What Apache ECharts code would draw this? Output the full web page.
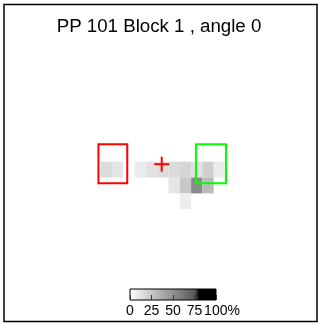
<!DOCTYPE html>
<html>
<head>
<meta charset="utf-8">
<script src="https://cdn.jsdelivr.net/npm/echarts@6/dist/echarts.min.js"></script>
<style>
  html, body { margin: 0; padding: 0; background: #fff; }
  #chart { width: 318px; height: 325px; }
</style>
</head>
<body>
<div id="chart"></div>
<script>
const titleText = 'PP 101 Block 1 , angle 0';

// [column, row, percent]
const cells = [
  [8, 7, 16], [9, 7, 12], [11, 7, 9], [12, 7, 13], [13, 7, 16], [14, 7, 17],
  [15, 7, 19], [16, 7, 14], [17, 7, 22], [18, 7, 9],
  [14, 8, 12], [15, 8, 25], [16, 8, 52], [17, 8, 31],
  [15, 9, 8]
];

// [x1, y1, x2, y2] in cell units
const redBox = [7.8, 5.9, 10.35, 8.36];
const greenBox = [16.43, 5.9, 19.09, 8.36];
const crossPos = [13.4, 7.16];

const colorbarTicks = [0, 25, 50, 75, 100];

// grey scale: white -> dark grey up to ~79%, black above
const greyStops = [];
for (let p = 0; p <= 100; p += 5) {
  if (p < 80) {
    const g = Math.round(255 - 221.5 * p / 100);
    greyStops.push('rgb(' + g + ',' + g + ',' + g + ')');
  } else {
    greyStops.push('#000000');
  }
}

const chart = echarts.init(document.getElementById('chart'));

const boxSeries = (box, color) => ({
  type: 'custom',
  xAxisIndex: 0,
  yAxisIndex: 0,
  data: [box],
  z: 5,
  renderItem: (params, api) => {
    const p1 = api.coord([api.value(0), api.value(1)]);
    const p2 = api.coord([api.value(2), api.value(3)]);
    return {
      type: 'rect',
      shape: { x: p1[0], y: p1[1], width: p2[0] - p1[0], height: p2[1] - p1[1] },
      style: { fill: 'none', stroke: color, lineWidth: 2 }
    };
  }
});

chart.setOption({
  animation: false,
  title: {
    text: titleText,
    left: 'center',
    top: 17,
    padding: 0,
    textStyle: { fontFamily: 'Liberation Sans, Arial', fontSize: 18.7, fontWeight: 'normal', color: '#000' }
  },
  graphic: [{
    type: 'rect',
    shape: { x: 4, y: 4.5, width: 313, height: 317 },
    style: { fill: 'none', stroke: '#000', lineWidth: 1.5 },
    z: 10
  }],
  visualMap: {
    show: false,
    seriesIndex: 0,
    dimension: 2,
    min: 0,
    max: 100,
    inRange: { color: greyStops }
  },
  grid: [
    { left: 10.3, width: 305.1, top: 50.6, height: 238 },
    { left: 130, width: 86, top: 289, height: 11 }
  ],
  xAxis: [
    { gridIndex: 0, type: 'value', min: 0, max: 27, show: false },
    {
      gridIndex: 1, type: 'value', min: 0, max: 100, interval: 25, z: 5,
      axisLine: { show: false },
      splitLine: { show: false },
      axisTick: { inside: true, length: 5, lineStyle: { color: '#333', width: 1 } },
      axisLabel: {
        margin: 4,
        color: '#000',
        fontFamily: 'Liberation Sans, Arial',
        fontSize: 14,
        formatter: v => v === 100 ? '{p|100%}' : String(v),
        rich: { p: { padding: [0, 0, 0, 12], fontSize: 14, fontFamily: 'Liberation Sans, Arial', color: '#000' } }
      }
    }
  ],
  yAxis: [
    { gridIndex: 0, type: 'value', min: 0, max: 15, inverse: true, show: false },
    { gridIndex: 1, type: 'value', min: 0, max: 1, show: false }
  ],
  series: [
    {
      type: 'custom',
      xAxisIndex: 0,
      yAxisIndex: 0,
      data: cells,
      renderItem: (params, api) => {
        const p1 = api.coord([api.value(0), api.value(1)]);
        const p2 = api.coord([api.value(0) + 1, api.value(1) + 1]);
        return {
          type: 'rect',
          shape: { x: p1[0], y: p1[1], width: p2[0] - p1[0], height: p2[1] - p1[1] },
          style: { fill: api.visual('color') }
        };
      }
    },
    boxSeries(redBox, '#ff0000'),
    boxSeries(greenBox, '#00ff00'),
    {
      type: 'custom',
      xAxisIndex: 0,
      yAxisIndex: 0,
      data: [crossPos],
      z: 6,
      renderItem: (params, api) => {
        const c = api.coord([api.value(0), api.value(1)]);
        const s = 7.5;
        const st = { stroke: '#ff0000', lineWidth: 2 };
        return {
          type: 'group',
          children: [
            { type: 'line', shape: { x1: c[0] - s, y1: c[1], x2: c[0] + s, y2: c[1] }, style: st },
            { type: 'line', shape: { x1: c[0], y1: c[1] - s, x2: c[0], y2: c[1] + s }, style: st }
          ]
        };
      }
    },
    {
      type: 'custom',
      xAxisIndex: 1,
      yAxisIndex: 1,
      data: [[colorbarTicks[0], colorbarTicks[colorbarTicks.length - 1]]],
      z: 2,
      renderItem: (params, api) => {
        const p1 = api.coord([api.value(0), 1]);
        const p2 = api.coord([api.value(1), 0]);
        const stops = greyStops.map((c, i) => ({ offset: i / (greyStops.length - 1), color: c }));
        return {
          type: 'rect',
          shape: { x: p1[0], y: p1[1], width: p2[0] - p1[0], height: p2[1] - p1[1] },
          style: {
            fill: new echarts.graphic.LinearGradient(0, 0, 1, 0, stops),
            stroke: '#000',
            lineWidth: 1
          }
        };
      }
    }
  ]
});
</script>
</body>
</html>
